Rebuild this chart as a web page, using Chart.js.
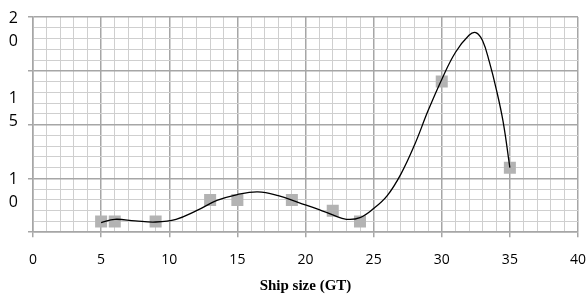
<!DOCTYPE html>
<html lang="en">
<head>
    <meta charset="UTF-8">
    <title>Ship size (GT)</title>
    <script src="https://cdn.jsdelivr.net/npm/chart.js@4"></script>
    <style>
        html, body {
            margin: 0;
            padding: 0;
            background: #fff;
            overflow: hidden;
        }
        #wrap {
            width: 587px;
            height: 295px;
        }
    </style>
</head>
<body>
    <div id="wrap"><canvas id="chart"></canvas></div>

    <script>
        // measured points
        const shipSize = [5, 6, 9, 13, 15, 19, 22, 24, 30, 35];
        const measured = [1, 1, 1, 3, 3, 3, 2, 1, 14, 6];

        // trend curve
        const curveX = [5, 6, 7.5, 9, 10.5, 12, 13.5, 15, 16.5, 18, 19.5, 21, 22, 23, 24, 25, 26, 27, 28, 29, 30, 31, 32, 32.5, 33, 33.5, 34, 34.5, 35];
        const curveY = [0.9, 1.2, 1.05, 0.95, 1.2, 2.0, 2.95, 3.5, 3.75, 3.4, 2.75, 2.1, 1.6, 1.2, 1.35, 2.2, 3.4, 5.4, 8.1, 11.3, 14.2, 16.7, 18.3, 18.55, 17.8, 15.8, 13.3, 10.3, 6.0];

        // y labels sit in odd places in the original, wrapped on two lines
        const yLabelPos = [18.8, 11.35, 3.8];
        const yLabels = [['2', '0'], ['1', '5'], ['1', '0']];

        const majorGrid = '#a6a6a6';
        const minorGrid = '#cfcfcf';

        function gridColor(ctx) {
            if (ctx.tick && ctx.tick.value % 5 === 0) return majorGrid;
            return minorGrid;
        }
        function gridWidth(ctx) {
            if (ctx.tick && ctx.tick.value % 5 === 0) return 1.5;
            return 1;
        }
        function tickColor(ctx) {
            if (ctx.tick && ctx.tick.value % 5 === 0) return majorGrid;
            return 'rgba(0,0,0,0)';
        }
        // keep the plot area where we put it, labels may hang over
        function noPad(s) {
            s.paddingTop = 0;
            s.paddingBottom = 0;
            s.paddingLeft = 0;
            s.paddingRight = 0;
        }

        new Chart(document.getElementById('chart'), {
            type: 'scatter',
            data: {
                datasets: [{
                    label: 'trend',
                    data: curveX.map((x, i) => ({ x: x, y: curveY[i] })),
                    showLine: true,
                    borderColor: '#000',
                    borderWidth: 1.3,
                    pointRadius: 0,
                    tension: 0.4,
                    yAxisID: 'y'
                }, {
                    label: 'measured',
                    data: shipSize.map((x, i) => ({ x: x, y: measured[i] })),
                    pointStyle: 'rect',
                    pointRadius: 8.5,
                    pointHoverRadius: 8.5,
                    backgroundColor: '#b3b3b3',
                    borderWidth: 0,
                    yAxisID: 'y'
                }]
            },
            options: {
                responsive: true,
                maintainAspectRatio: false,
                animation: false,
                layout: { padding: { top: 17, left: 0, right: 9, bottom: 0 } },
                plugins: {
                    legend: { display: false },
                    tooltip: { enabled: false }
                },
                scales: {
                    x: {
                        type: 'linear',
                        min: 0,
                        max: 40,
                        afterFit: noPad,
                        ticks: {
                            stepSize: 1,
                            autoSkip: false,
                            maxRotation: 0,
                            padding: 14,
                            color: '#000',
                            font: { family: 'Open Sans', size: 14 },
                            callback: v => (v % 5 === 0 ? String(v) : '')
                        },
                        grid: {
                            color: gridColor,
                            lineWidth: gridWidth,
                            tickColor: tickColor,
                            tickLength: 5
                        },
                        border: { color: majorGrid, width: 1.5 },
                        title: {
                            display: true,
                            text: 'Ship size (GT)',
                            color: '#000',
                            font: { family: 'Liberation Serif', size: 15, weight: 'bold' },
                            padding: { top: -5, bottom: 0 }
                        }
                    },
                    y: {
                        position: 'left',
                        min: 0,
                        max: 20,
                        afterFit: noPad,
                        ticks: { stepSize: 1, display: false },
                        grid: {
                            color: gridColor,
                            lineWidth: gridWidth,
                            tickColor: tickColor,
                            tickLength: 5
                        },
                        border: { color: majorGrid, width: 1.5 }
                    },
                    yl: {
                        position: 'left',
                        min: 0,
                        max: 20,
                        afterBuildTicks: s => { s.ticks = yLabelPos.map(v => ({ value: v })); },
                        afterFit: s => { noPad(s); s.width = 28; },
                        ticks: {
                            padding: 10,
                            color: '#000',
                            font: { family: 'Open Sans', size: 16, lineHeight: 1.45 },
                            callback: (v, i) => yLabels[i]
                        },
                        grid: { display: false, drawTicks: false },
                        border: { display: false }
                    }
                }
            }
        });
    </script>
</body>
</html>
